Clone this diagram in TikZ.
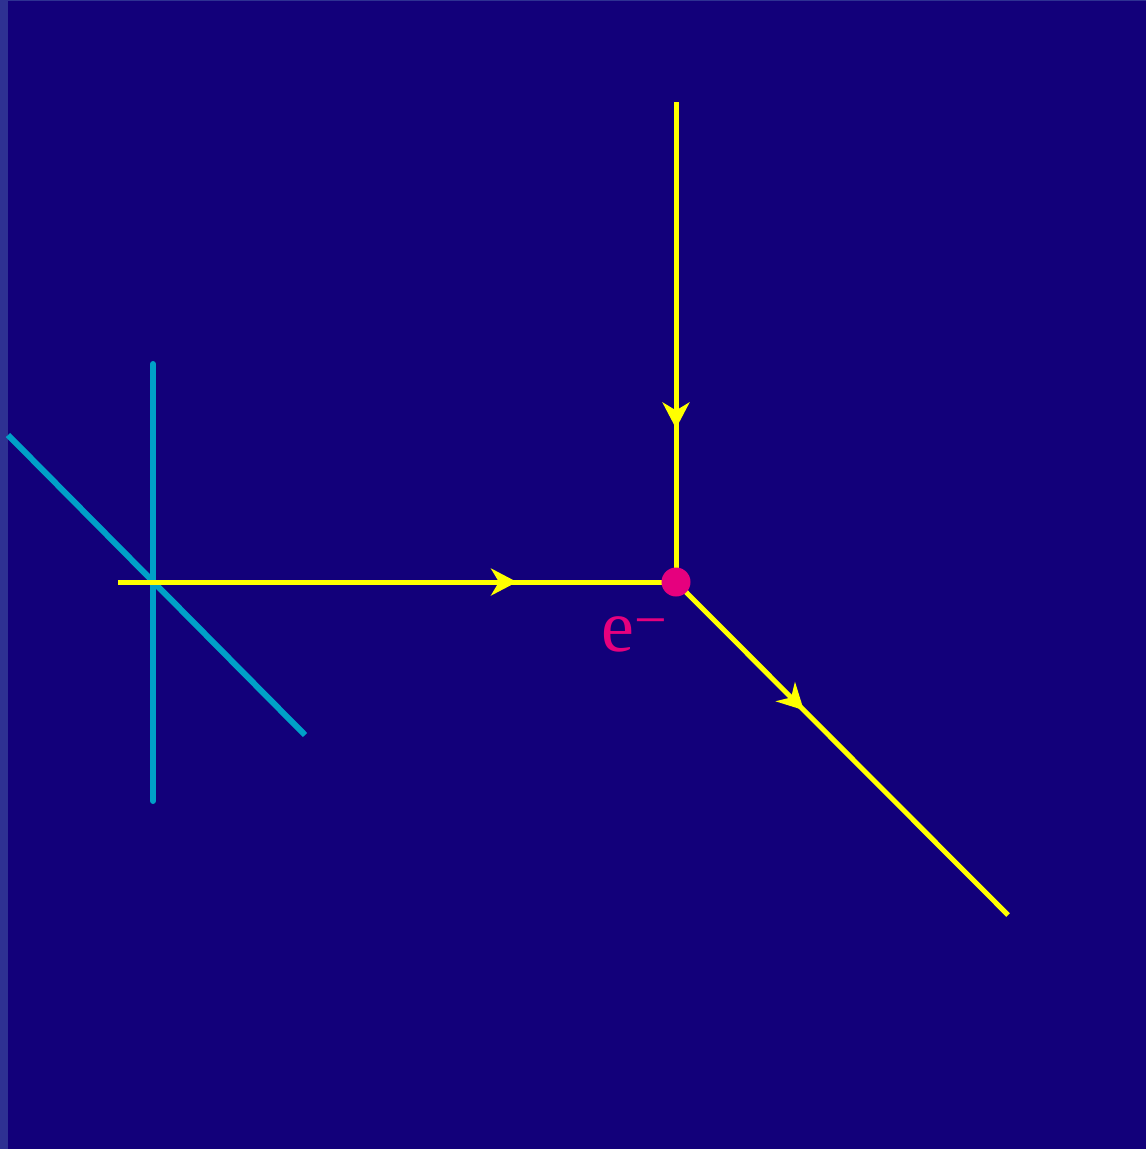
\documentclass[tikz,border=0pt]{standalone}
\usepackage{fontspec}
\newfontfamily\labelfont{Liberation Serif}
\usetikzlibrary{arrows.meta,decorations.markings}
\definecolor{bg}{RGB}{18,0,122}
\definecolor{strip}{RGB}{46,49,146}
\definecolor{fermion}{RGB}{255,255,0}
\definecolor{cyanline}{RGB}{0,160,200}
\definecolor{vertexc}{RGB}{230,0,126}
\tikzset{
  fline/.style={draw=fermion,line width=5pt},
  midarrow/.style={postaction={decorate,decoration={markings,
     mark=at position #1 with {\arrow{Stealth[length=26pt,width=27pt,inset=8pt,fermion]}}}}},
  cline/.style={draw=cyanline,line width=6pt,line cap=round},
}
\begin{document}
\begin{tikzpicture}[x=1pt,y=-1pt]
\useasboundingbox (0,0) rectangle (1146,1149);
\fill[bg] (0,0) rectangle (1146,1149);
\fill[strip] (0,0) rectangle (8,1149);
\fill[strip] (0,0) rectangle (1146,1);
% coordinates
\coordinate (top) at (676,102);
\coordinate (v) at (676,582);
\coordinate (left) at (118,582);
\coordinate (out) at (1008,915);
\coordinate (c1) at (153,364);
\coordinate (c2) at (153,801);
\coordinate (d1) at (8,435);
\coordinate (d2) at (305,735);
% cyan lines
\draw[cline] (c1) -- (c2);
\draw[cline,line cap=butt] (d1) -- (d2);
% fermion lines
\draw[fline,midarrow=0.715] (left) -- (v);
\draw[fline,midarrow=0.68] (top) -- (v);
\draw[fline,midarrow=0.385] (v) -- (out);
% vertex
\node[circle,fill=vertexc,minimum size=29pt,inner sep=0] (vx) at (v) {};
\node[anchor=base west,inner sep=0,text=vertexc,font=\labelfont\fontsize{74}{74}\selectfont] (lab) at (601,651) {e\raisebox{12pt}{\fontsize{58}{58}\selectfont −}};
\end{tikzpicture}
\end{document}
